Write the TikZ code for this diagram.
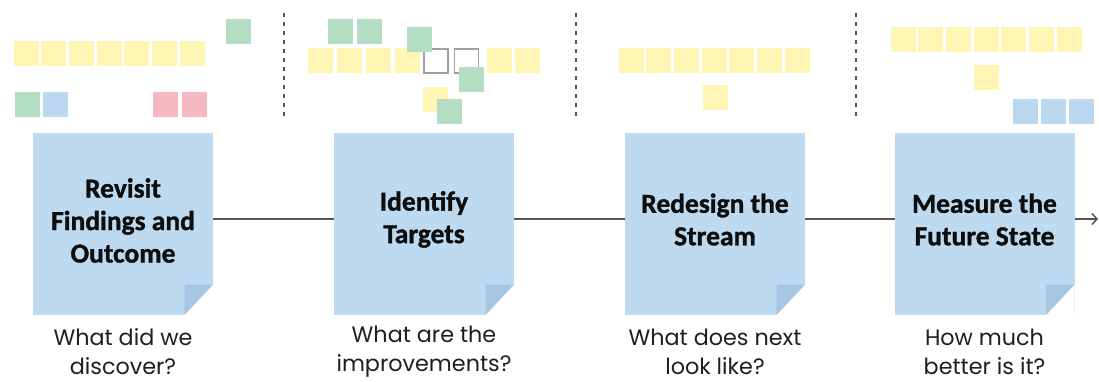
\documentclass[tikz,border=0pt]{standalone}
\usepackage{fontspec}
\setmainfont{Carlito}[BoldFeatures={FakeBold=1.2}]
\newfontfamily\qfont{Poppins}
\usetikzlibrary{arrows.meta,calc}
\definecolor{yel}{HTML}{FFF6B5}
\definecolor{grn}{HTML}{B3DEC4}
\definecolor{blu}{HTML}{BBD8F0}
\definecolor{pnk}{HTML}{F5B8C2}
\definecolor{notebg}{HTML}{BDDAF1}
\definecolor{foldc}{HTML}{A6C6E2}
\definecolor{linec}{HTML}{555555}
\tikzset{
  sq/.style={minimum size=25pt,inner sep=0pt,outer sep=0pt},
  ysq/.style={sq,fill=yel},
  gsq/.style={sq,fill=grn},
  bsq/.style={sq,fill=blu},
  psq/.style={sq,fill=pnk},
  osq/.style={sq,draw=gray!75,line width=1.8pt,minimum size=24pt},
  notebox/.style={minimum width=180pt,minimum height=182pt,inner sep=0pt,outer sep=0pt,fill=notebg},
  ttl/.style={align=center,font=\fontsize{27.5}{32.5}\selectfont\bfseries,text=black!95},
  qst/.style={align=center,font=\qfont\fontsize{22.3}{29}\selectfont,text=black!88},
  sep/.style={draw=linec,line width=2pt,dash pattern=on 4pt off 5pt},
  conn/.style={draw=linec,line width=1.8pt},
}
\begin{document}
\begin{tikzpicture}[x=1pt,y=-1pt]
\useasboundingbox (0,0) rectangle (1099,381);
% ---- sticky squares, section 1
\foreach \i in {0,...,6} \node[ysq] (a\i) at (26+27.7*\i,53.5) {};
\node[gsq] (a7) at (238,31) {};
\node[gsq] (a8) at (27,104) {};
\node[bsq] (a9) at (55.5,104) {};
\node[psq] (a10) at (165.5,104) {};
\node[psq] (a11) at (194,104) {};
% ---- section 2
\foreach \i/\x in {0/320.5,1/349.5,2/378,3/407,4/499.5,5/527.5} \node[ysq] (b\i) at (\x,60.5) {};
\node[osq] (b6) at (436,61) {};
\node[osq] (b7) at (466.5,61) {};
\node[gsq] (b8) at (340,31) {};
\node[gsq] (b9) at (369,31) {};
\node[gsq] (b10) at (419,39) {};
\node[gsq] (b11) at (471,79) {};
\node[ysq] (b12) at (435.5,99) {};
\node[gsq] (b13) at (449.5,111) {};
% ---- section 3
\foreach \i in {0,...,6} \node[ysq] (c\i) at (631+27.7*\i,60) {};
\node[ysq] (c7) at (715.5,97.5) {};
% ---- section 4
\foreach \i in {0,...,6} \node[ysq] (d\i) at (903+27.7*\i,39) {};
\node[ysq] (d7) at (986.5,77.5) {};
\foreach \i/\x in {0/1025,1/1053,2/1081} \node[bsq] (e\i) at (\x,111) {};
% ---- dashed separators
\coordinate (s1a) at (284,13); \coordinate (s1b) at (284,116);
\coordinate (s2a) at (576,13); \coordinate (s2b) at (576,116);
\coordinate (s3a) at (856,13); \coordinate (s3b) at (856,116);
\draw[sep] (s1a) -- (s1b);
\draw[sep] (s2a) -- (s2b);
\draw[sep] (s3a) -- (s3b);
% ---- notes
\foreach \n/\x in {n1/123,n2/424,n3/715,n4/984.5}{
  \node[notebox] (\n) at (\x,224) {};
  \fill[white] (\n.south east) -- ++(-28.5,0) -- ++(28.5,-30.5) -- cycle;
  \fill[foldc] ($(\n.south east)+(-28.5,0)$) -- ++(0,-30.5) -- ++(28.5,0) -- cycle;
}
\node[ttl] (t1) at (123,220.5) {Revisit\\Findings and\\Outcome};
\node[ttl] (t2) at (424,219.5) {Identify\\Targets};
\node[ttl] (t3) at (715,219.5) {Redesign the\\Stream};
\node[ttl] (t4) at (984.5,219.5) {Measure the\\Future State};
\node[qst] (q1) at (123,351.5) {What did we\\discover?};
\node[qst] (q2) at (424,351.5) {What are the\\improvements?};
\node[qst] (q3) at (715,351.5) {What does next\\look like?};
\node[qst] (q4) at (984.5,351.5) {How much\\better is it?};
% ---- connectors
\coordinate (end) at (1098,219);
\draw[conn] (n1.east |- 0,219) -- (n2.west |- 0,219);
\draw[conn] (n2.east |- 0,219) -- (n3.west |- 0,219);
\draw[conn] (n3.east |- 0,219) -- (n4.west |- 0,219);
\draw[conn,-{Straight Barb[length=5pt,width=11pt,line width=1.5pt]}] (n4.east |- 0,219) -- (end);
\end{tikzpicture}
\end{document}
